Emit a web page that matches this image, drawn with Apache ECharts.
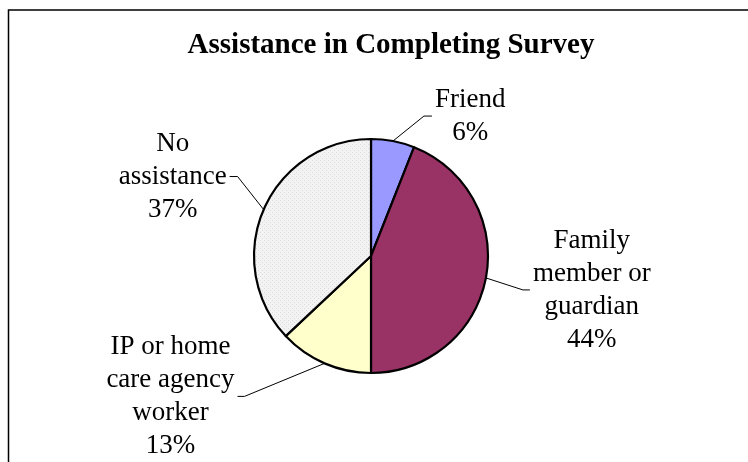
<!DOCTYPE html>
<html>
<head>
<meta charset="utf-8">
<script src="https://cdn.jsdelivr.net/npm/echarts@6/dist/echarts.min.js"></script>
<style>
  html, body { margin: 0; padding: 0; background: #fff; }
  #chart { width: 748px; height: 462px; }
</style>
</head>
<body>
<div id="chart"></div>
<script>
// Survey responses: who helped complete the survey (percent of respondents)
const categories = [
  'Friend',
  'Family\nmember or\nguardian',
  'IP or home\ncare agency\nworker',
  'No\nassistance'
];
const values = [6, 44, 13, 37];
const chartTitle = 'Assistance in Completing Survey';

// Slice fills
const sliceColors = ['#9999FF', '#993366', '#FFFFCC', null];

// Fine dotted grey fill for the last slice
function dotPattern() {
  const c = document.createElement('canvas');
  c.width = 4; c.height = 4;
  const g = c.getContext('2d');
  g.fillStyle = '#F3F3F3';
  g.fillRect(0, 0, 4, 4);
  g.fillStyle = '#DCDCDC';
  g.fillRect(0, 0, 1, 1);
  g.fillRect(2, 2, 1, 1);
  return { image: c, repeat: 'repeat' };
}

// Pie geometry
const pieCenter = [371, 256];
const pieRadius = 117;

// Leader line shape per slice: bend offset from the slice edge, then a short horizontal run
const leader = [
  { bend: [31, -25], run: 8 },
  { bend: [37, 12], run: 7 },
  { bend: [-80, 33], run: -7 },
  { bend: [-26, -33], run: -8 }
];
const labelGap = 3;

// Mid-angle edge point of each slice (start at 12 o'clock, clockwise)
const total = values.reduce((a, b) => a + b, 0);
const edgePoints = [];
let acc = 0;
values.forEach(v => {
  const mid = (acc + v / 2) / total * Math.PI * 2;
  edgePoints.push([
    pieCenter[0] + pieRadius * Math.sin(mid),
    pieCenter[1] - pieRadius * Math.cos(mid)
  ]);
  acc += v;
});

const chart = echarts.init(document.getElementById('chart'), null, { renderer: 'canvas' });

chart.setOption({
  animation: false,
  backgroundColor: '#ffffff',
  title: {
    text: chartTitle,
    left: 386,
    top: 26,
    textAlign: 'center',
    textStyle: {
      fontFamily: 'Liberation Serif',
      fontWeight: 'bold',
      fontSize: 29,
      color: '#000'
    }
  },
  graphic: [{
    type: 'rect',
    shape: { x: 8.5, y: 10, width: 800, height: 500 },
    style: { fill: 'none', stroke: '#000', lineWidth: 1.5 },
    silent: true,
    z: -1
  }],
  series: [{
    type: 'pie',
    center: pieCenter,
    radius: pieRadius,
    startAngle: 90,
    clockwise: true,
    percentPrecision: 0,
    avoidLabelOverlap: false,
    emphasis: { disabled: true },
    data: categories.map((name, i) => ({
      name: name,
      value: values[i],
      itemStyle: { color: sliceColors[i] || dotPattern() }
    })),
    itemStyle: { borderColor: '#000', borderWidth: 2.2 },
    label: {
      show: true,
      position: 'outside',
      formatter: '{b}\n{d}%',
      fontFamily: 'Liberation Serif',
      fontSize: 27,
      lineHeight: 33,
      color: '#000',
      align: 'center'
    },
    labelLine: {
      show: true,
      lineStyle: { color: '#000', width: 1 }
    },
    labelLayout: function (params) {
      const i = params.dataIndex;
      const e = edgePoints[i];
      const L = leader[i];
      const knee = [e[0] + L.bend[0], e[1] + L.bend[1]];
      const end = [knee[0] + L.run, knee[1]];
      const w = params.labelRect.width;
      const dir = L.run >= 0 ? 1 : -1;
      return {
        x: end[0] + dir * (labelGap + w / 2),
        y: end[1],
        align: 'center',
        verticalAlign: 'middle',
        labelLinePoints: [e, knee, end]
      };
    }
  }]
});
</script>
</body>
</html>
